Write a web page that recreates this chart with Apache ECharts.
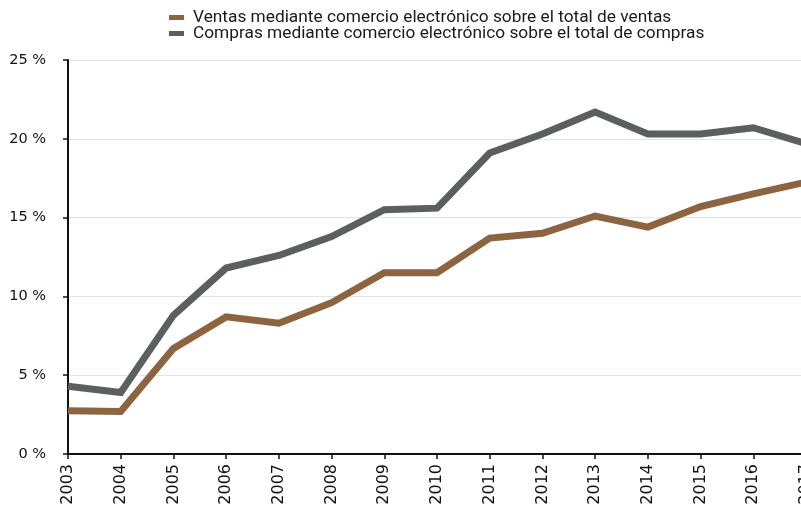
<!DOCTYPE html>
<html>
<head>
<meta charset="utf-8">
<script src="https://cdn.jsdelivr.net/npm/echarts@6/dist/echarts.min.js"></script>
<style>
  html, body { margin: 0; padding: 0; background: #ffffff; overflow: hidden; }
  #chart { width: 801px; height: 509px; }
</style>
</head>
<body>
<div id="chart"></div>
<script>
// Years on the horizontal axis
const years = ['2003','2004','2005','2006','2007','2008','2009','2010','2011','2012','2013','2014','2015','2016','2017'];

// Share of e-commerce sales over total sales (%)
const ventas = [2.75, 2.7, 6.7, 8.7, 8.3, 9.6, 11.5, 11.5, 13.7, 14.0, 15.1, 14.4, 15.7, 16.5, 17.25];

// Share of e-commerce purchases over total purchases (%)
const compras = [4.3, 3.9, 8.8, 11.8, 12.6, 13.8, 15.5, 15.6, 19.1, 20.3, 21.7, 20.3, 20.3, 20.7, 19.7];

const seriesNames = [
  'Ventas mediante comercio electrónico sobre el total de ventas',
  'Compras mediante comercio electrónico sobre el total de compras'
];

const colVentas = '#8c6540';
const colCompras = '#5b605f';
const font = 'DejaVu Sans';

const chart = echarts.init(document.getElementById('chart'), null, { renderer: 'canvas' });

chart.setOption({
  animation: false,
  backgroundColor: '#ffffff',
  legend: {
    orient: 'vertical',
    left: 164,
    top: 4,
    itemWidth: 15,
    itemHeight: 5,
    itemGap: -1,
    icon: 'rect',
    textStyle: { fontFamily: 'Roboto', fontSize: 17.3, lineHeight: 16, color: '#1a1a1a', padding: [0, 0, 0, 4] },
    data: seriesNames
  },
  // plot area runs slightly past the right edge, so the last year is cut
  grid: { left: 68, width: 738, top: 60, bottom: 55, containLabel: false, outerBoundsMode: 'none' },
  xAxis: {
    type: 'category',
    data: years,
    boundaryGap: false,
    axisLine: { lineStyle: { color: '#111111', width: 2 } },
    axisTick: { show: true, length: 5, lineStyle: { color: '#111111', width: 1.5 } },
    axisLabel: {
      rotate: 90,
      fontFamily: font,
      fontSize: 16,
      color: '#111111',
      margin: 10,
      interval: 0
    },
    splitLine: { show: false }
  },
  yAxis: {
    type: 'value',
    min: 0,
    max: 25,
    interval: 5,
    axisLine: { show: true, lineStyle: { color: '#111111', width: 2 } },
    axisTick: { show: true, length: 5, lineStyle: { color: '#111111', width: 1.5 } },
    axisLabel: {
      fontFamily: font,
      fontSize: 14.5,
      color: '#111111',
      margin: 22,
      formatter: v => v + ' %'
    },
    splitLine: { show: true, lineStyle: { color: '#e3e3e3', width: 1 } }
  },
  series: [
    {
      name: seriesNames[0],
      type: 'line',
      data: ventas,
      symbol: 'none',
      lineStyle: { color: colVentas, width: 7, join: 'miter' },
      itemStyle: { color: colVentas },
      z: 3
    },
    {
      name: seriesNames[1],
      type: 'line',
      data: compras,
      symbol: 'none',
      lineStyle: { color: colCompras, width: 7, join: 'miter' },
      itemStyle: { color: colCompras },
      z: 2
    }
  ]
});
</script>
</body>
</html>
